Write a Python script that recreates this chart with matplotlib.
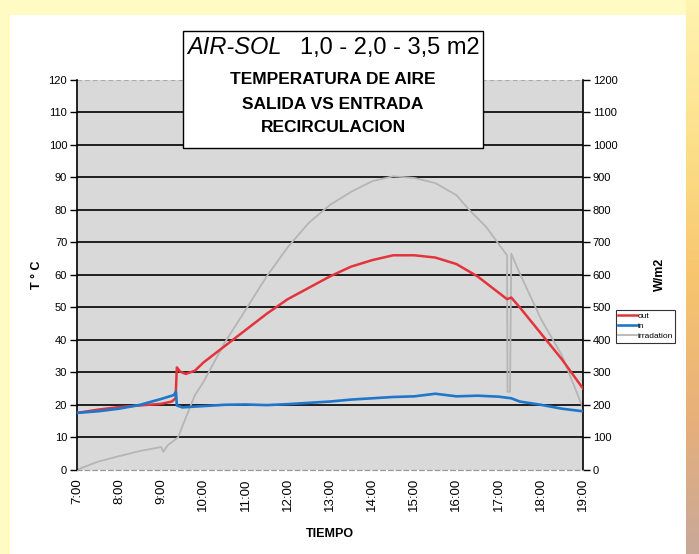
import matplotlib
matplotlib.use("Agg")
import numpy as np
import matplotlib.pyplot as plt
from matplotlib.patches import Rectangle
from matplotlib.colors import LinearSegmentedColormap

# ── data (hours of day) ──────────────────────────────────────────────────────
t_out = [7.0, 7.5, 8.0, 8.5, 9.0, 9.25, 9.34, 9.37, 9.45, 9.58, 9.8, 10.0,
         10.5, 11.0, 11.5, 12.0, 12.5, 13.0, 13.5, 14.0, 14.5, 15.0, 15.5,
         16.0, 16.5, 17.0, 17.2, 17.3, 17.5, 18.0, 18.5, 19.0]
temp_out = [17.5, 18.5, 19.3, 19.8, 20.3, 21.0, 22.0, 31.5, 30.2, 29.5, 30.5, 33.0,
            38.0, 43.0, 48.0, 52.5, 56.0, 59.5, 62.5, 64.5, 66.0, 66.0, 65.3,
            63.3, 59.5, 54.5, 52.5, 53.0, 50.0, 42.0, 34.0, 25.0]

t_in = [7.0, 7.5, 8.0, 8.5, 9.0, 9.3, 9.35, 9.37, 9.5, 10.0, 10.5, 11.0, 11.5,
        12.0, 12.5, 13.0, 13.5, 14.0, 14.5, 15.0, 15.5, 16.0, 16.5, 17.0,
        17.3, 17.5, 18.0, 18.5, 19.0]
temp_in = [17.5, 18.0, 18.8, 20.0, 21.8, 23.0, 24.0, 19.8, 19.2, 19.6, 20.0, 20.1, 19.9,
           20.2, 20.6, 21.0, 21.6, 22.0, 22.4, 22.6, 23.4, 22.6, 22.8, 22.5,
           22.0, 21.0, 20.0, 18.8, 18.0]

t_irr = [7.0, 7.5, 8.0, 8.5, 9.0, 9.05, 9.15, 9.3, 9.4, 9.55, 9.8, 10.0, 10.5,
         11.0, 11.5, 12.0, 12.5, 13.0, 13.5, 14.0, 14.5, 15.0, 15.5, 16.0,
         16.3, 16.7, 17.0, 17.2, 17.21, 17.27, 17.3, 17.5, 18.0, 18.5, 19.0]
irradiation = [0, 25, 42, 58, 70, 55, 75, 90, 100, 150, 230, 270, 390,
               492, 595, 685, 760, 815, 855, 888, 903, 898, 882, 845,
               800, 748, 695, 660, 240, 240, 665, 605, 465, 352, 190]

hour_ticks = list(range(7, 20))
hour_labels = [f"{h}:00" for h in hour_ticks]
temp_ticks = list(range(0, 121, 10))
irr_ticks = list(range(0, 1201, 100))

RED = "#e3343c"
BLUE = "#1f77c9"
GREY = "#b5b5b5"
FONT = ["Liberation Sans Narrow", "Liberation Sans", "DejaVu Sans"]

plt.rcParams.update({
    "font.family": FONT,
    "font.size": 8,
})

fig = plt.figure(figsize=(6.99, 5.54), dpi=100)
fig.patch.set_facecolor("#fffbc2")

# scanned page: white sheet + warm strip on the right edge
fig.patches.append(Rectangle((0.014, 0.0), 0.967, 0.973, transform=fig.transFigure,
                             facecolor="white", edgecolor="none", zorder=-10))
strip = fig.add_axes([0.982, 0.0, 0.018, 1.0], zorder=-5)
strip_cmap = LinearSegmentedColormap.from_list(
    "edge", ["#fff3b0", "#fde08a", "#f7c56e", "#e8b07a", "#c9a898"])
strip.imshow(np.linspace(0, 1, 100).reshape(-1, 1), aspect="auto", cmap=strip_cmap)
strip.axis("off")

ax2 = fig.add_axes([0.110, 0.152, 0.724, 0.704])
ax2.set_facecolor("#d9d9d9")
ax2.set_xlim(7, 19)
ax2.set_ylim(0, 1200)
ax2.yaxis.tick_right()
ax2.yaxis.set_label_position("right")
ax2.set_xticks([])

ax = fig.add_axes([0.110, 0.152, 0.724, 0.704])
ax.patch.set_visible(False)
ax.set_xlim(7, 19)
ax.set_ylim(0, 120)

for y in temp_ticks[1:-1]:
    ax2.axhline(y * 10, color="black", linewidth=1.2, zorder=1)
ax2.axhline(1200, color="#aaaaaa", linewidth=0.8, linestyle=(0, (4, 3)), zorder=1)

l_irr, = ax2.plot(t_irr, irradiation, color=GREY, linewidth=1.3, label="irradation", zorder=2)
l_out, = ax.plot(t_out, temp_out, color=RED, linewidth=1.8, label="out", zorder=3)
l_in, = ax.plot(t_in, temp_in, color=BLUE, linewidth=1.9, label="in", zorder=3)

# spines / ticks
for a in (ax, ax2):
    a.spines["top"].set_visible(False)
    a.spines["bottom"].set_color("#999999")
    a.spines["bottom"].set_linestyle((0, (4, 3)))
ax.spines["right"].set_visible(False)
ax2.spines["left"].set_visible(False)
ax.spines["left"].set_linewidth(1.2)
ax2.spines["right"].set_linewidth(1.2)

ax.set_yticks(temp_ticks)
ax.tick_params(axis="y", direction="out", length=5, width=1, pad=2, labelsize=8)
ax2.set_yticks(irr_ticks)
ax2.tick_params(axis="y", direction="out", length=5, width=1, pad=2, labelsize=8)

ax.set_xticks(hour_ticks)
ax.set_xticklabels(hour_labels, rotation=90, ha="center", va="top")
ax.tick_params(axis="x", length=0, pad=6, labelsize=9.5)

ax.set_xlabel("TIEMPO", fontsize=9, fontweight="bold", labelpad=12)
ax.set_ylabel("T ° C", fontsize=9, fontweight="bold", labelpad=4)
ax2.set_ylabel("W/m2", fontsize=9, fontweight="bold", labelpad=26)

leg = fig.legend(handles=[l_out, l_in, l_irr], loc="upper left",
                 bbox_to_anchor=(0.875, 0.448), fontsize=6, frameon=True,
                 fancybox=False, handlelength=2.2, handletextpad=0.1,
                 borderpad=0.3, labelspacing=0.25)
leg.get_frame().set_edgecolor("black")
leg.get_frame().set_linewidth(0.8)

# title box
fig.patches.append(Rectangle((0.262, 0.733), 0.429, 0.211, transform=fig.transFigure,
                             facecolor="white", edgecolor="black", linewidth=1.0,
                             zorder=5))
fig.text(0.268, 0.914, "AIR-SOL", fontsize=17, style="italic", ha="left",
         va="center", zorder=6, family=["Liberation Sans", "DejaVu Sans"])
fig.text(0.686, 0.914, "1,0 - 2,0 - 3,5 m2", fontsize=17, ha="right",
         va="center", zorder=6, family=["Liberation Sans", "DejaVu Sans"])
for yy, line in zip([0.856, 0.812, 0.769],
                    ["TEMPERATURA DE AIRE", "SALIDA VS ENTRADA", "RECIRCULACION"]):
    fig.text(0.4765, yy, line, fontsize=12.5, fontweight="bold", ha="center",
             va="center", zorder=6)

fig.savefig("out.png", dpi=100, facecolor=fig.get_facecolor())
